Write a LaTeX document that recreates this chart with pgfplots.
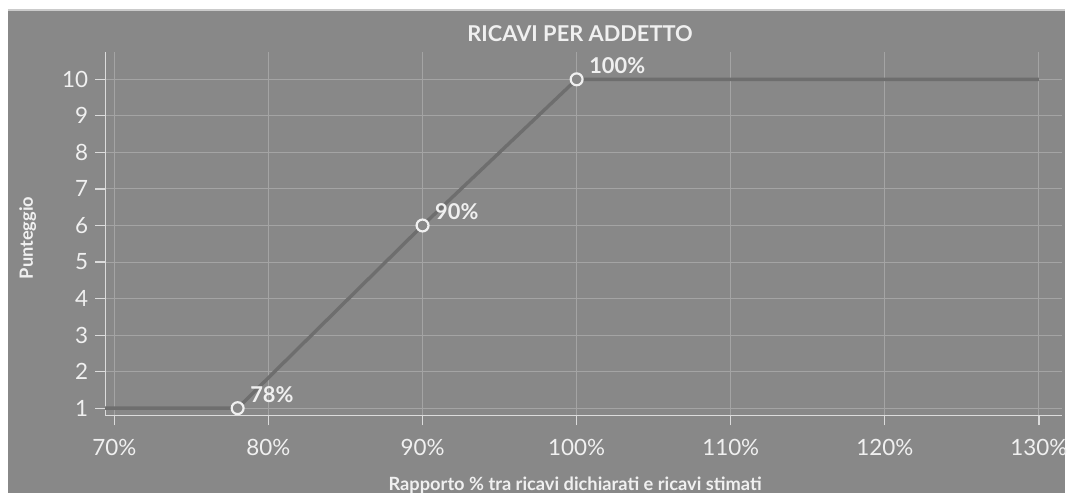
\documentclass[border=0pt]{standalone}
\usepackage{pgfplots}
\pgfplotsset{compat=1.18}
\usepackage{fontspec}
\setmainfont{Lato}
\definecolor{bg}{HTML}{888888}
\definecolor{gridc}{HTML}{A4A4A4}
\definecolor{axc}{HTML}{DCDCDC}
\definecolor{txt}{HTML}{F0F0F0}
\definecolor{linec}{HTML}{6E6E6E}
\begin{document}
\begin{tikzpicture}[x=1pt,y=1pt]
\fill[white] (0,0) rectangle (537,248.5);
\fill[bg] (4,0) rectangle (537,243.5);
\draw[color=axc!80!bg, line width=0.6pt] (4,243.5) -- (537,243.5);
\begin{axis}[
  at={(53pt,39pt)}, anchor=south west,
  width=482.5pt, height=183.5pt, scale only axis,
  xmin=69.4, xmax=131.5, ymin=0.8, ymax=10.76,
  axis x line=bottom, axis y line=left,
  axis line style={draw=axc, line width=0.6pt, -},
  tick align=outside, major tick length=5pt,
  tick style={draw=axc, line width=0.6pt},
  xtick={70,80,...,130}, ytick={1,...,10},
  xticklabel={\pgfmathprintnumber{\tick}\%},
  /pgf/number format/assume math mode=true,
  ticklabel style={font=\fontsize{11.3}{13}\selectfont, text=txt},
  xticklabel style={yshift=-3.5pt},
  grid=major,
  major grid style={draw=gridc, line width=0.5pt},
  clip=false,
]
\addplot[linec, line width=1.7pt] coordinates {(69.4,1) (78,1) (90,6) (100,10) (130,10)};
\addplot[only marks, mark=*, mark size=3pt,
  mark options={fill=bg, draw=txt, line width=1.1pt},
  nodes near coords, point meta=explicit symbolic,
  every node near coord/.append style={anchor=base west, xshift=2.5pt, yshift=3pt,
    font=\fontsize{11}{13}\selectfont\bfseries, text=txt}]
  coordinates {(78,1) [78\%] (90,6) [90\%] (100,10) [100\%]};
\end{axis}
\node[text=txt, font=\fontsize{11}{13}\selectfont\bfseries] at (292.5,231.5) {RICAVI PER ADDETTO};
\node[text=txt, font=\fontsize{9.2}{11}\selectfont\bfseries, rotate=90] at (14,128.5) {Punteggio};
\node[text=txt, font=\fontsize{9.2}{11}\selectfont\bfseries] at (290,4) {Rapporto \% tra ricavi dichiarati e ricavi stimati};
\end{tikzpicture}
\end{document}
